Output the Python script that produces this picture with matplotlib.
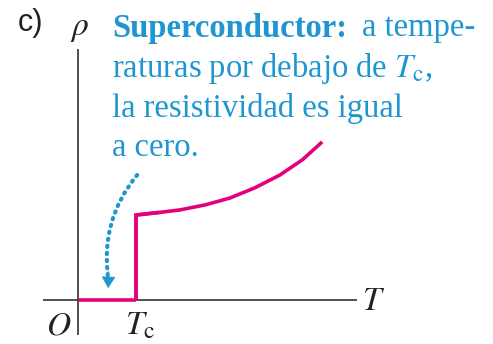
import numpy as np
import matplotlib.pyplot as plt

plt.rcParams['mathtext.fontset'] = 'stix'

# resistivity curve of a superconductor (arbitrary units, Tc = 1)
T_low = [0.0, 1.0]
rho_low = [0.0, 0.0]
T_high = [1.0, 1.0, 1.4, 1.76, 2.2, 2.62, 3.05, 3.48, 3.87, 4.21]
rho_high = [0.0, 1.0, 1.03, 1.06, 1.12, 1.20, 1.32, 1.47, 1.65, 1.86]

# arrow from the text down to the zero-resistance part
arrow_start = (1.02, 1.47)
arrow_end = (0.52, 0.14)

W, H = 493, 344
fig = plt.figure(figsize=(W / 100, H / 100), dpi=100)
ax = fig.add_axes([0, 0, 1, 1])
ax.set_xlim(-78 / 58, (W - 78) / 58)
ax.set_ylim(-(H - 300) / 85, 300 / 85)
ax.axis('off')

pink = '#e5007d'
blue = '#1f96cf'

# axes
ax.plot([-0.60, 4.81], [0, 0], color='#222222', lw=1.1, solid_capstyle='butt')
ax.plot([0, 0], [-0.41, 2.95], color='#222222', lw=1.1, solid_capstyle='butt')

ax.plot(T_low, rho_low, color=pink, lw=2.6, solid_capstyle='butt')
ax.plot(T_high, rho_high, color=pink, lw=2.6, solid_joinstyle='round',
        solid_capstyle='butt')
# sharp corner at the jump
ax.plot(T_high[:3], rho_high[:3], color=pink, lw=2.6, solid_joinstyle='miter',
        solid_capstyle='butt')

# dotted shaft, then a solid head at the lower end
ax.annotate('', xy=(arrow_end[0], arrow_end[1] + 0.12), xytext=arrow_start,
            arrowprops=dict(arrowstyle='-', connectionstyle='arc3,rad=0.22',
                            color=blue, lw=3.0, linestyle=(0, (0.3, 1.4)),
                            capstyle='round', shrinkA=0, shrinkB=0))
ax.annotate('', xy=arrow_end, xytext=(arrow_end[0] + 0.01, arrow_end[1] + 0.2),
            arrowprops=dict(arrowstyle='-|>,head_length=0.75,head_width=0.45',
                            color=blue, lw=0.5, shrinkA=0, shrinkB=0))


def px(x, y):
    return x / W, 1 - y / H


serif = 'Liberation Serif'
fs = 23.5
fig.text(*px(18, 23), 'c)', fontsize=22, family='Liberation Sans',
         va='center', ha='left', color='#222222')
fig.text(*px(70, 28), r'$\rho$', fontsize=24, va='center', ha='left',
         color='#222222')
fig.text(*px(46, 325), r'$O$', fontsize=24, va='center', ha='left',
         color='#222222')
fig.text(*px(125, 325), r'$T_{\mathrm{c}}$', fontsize=24, va='center',
         ha='left', color='#222222')
fig.text(*px(362, 300), r'$T$', fontsize=24, va='center', ha='left',
         color='#222222')

fig.text(*px(112, 28), 'Superconductor:', fontsize=fs, family=serif,
         weight='bold', va='center', ha='left', color=blue)
fig.text(*px(362, 28), 'a tempe-', fontsize=fs, family=serif,
         va='center', ha='left', color=blue)
fig.text(*px(112, 68), r'raturas por debajo de $T_{\mathrm{c}}$,',
         fontsize=fs, family=serif, va='center', ha='left', color=blue)
fig.text(*px(112, 108), 'la resistividad es igual', fontsize=fs,
         family=serif, va='center', ha='left', color=blue)
fig.text(*px(112, 148), 'a cero.', fontsize=fs, family=serif,
         va='center', ha='left', color=blue)

fig.savefig('out.png', dpi=100)
